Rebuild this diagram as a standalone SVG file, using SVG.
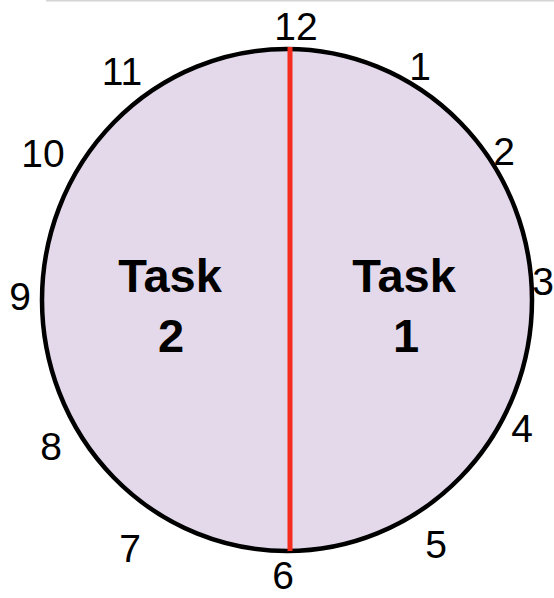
<svg xmlns="http://www.w3.org/2000/svg" width="554" height="598" viewBox="0 0 554 598">
  <style>
    .num { font-family: "Liberation Sans", Arial, sans-serif; font-size: 39px; fill: #000; text-anchor: middle; }
    .task { font-family: "Liberation Sans", Arial, sans-serif; font-size: 47px; font-weight: bold; fill: #000; text-anchor: middle; }
  </style>
  <rect x="0" y="0" width="554" height="598" fill="#ffffff"/>
  <rect x="46" y="0" width="508" height="1.5" fill="#d4d4d4"/>
  <g id="clock">
    <ellipse cx="287" cy="300" rx="245" ry="251" fill="#e3d9eb" stroke="#000" stroke-width="4.5"/>
  </g>
  <g id="connectors">
    <line x1="290" y1="47" x2="290" y2="551" stroke="#f52d1e" stroke-width="5"/>
  </g>
  <g id="task2">
    <text class="task" x="170" y="292">Task</text>
    <text class="task" x="171" y="352">2</text>
  </g>
  <g id="task1">
    <text class="task" x="404" y="292">Task</text>
    <text class="task" x="406" y="352">1</text>
  </g>
  <g id="hours">
    <text class="num" x="296" y="40">12</text>
    <text class="num" x="420" y="80">1</text>
    <text class="num" x="504" y="165">2</text>
    <text class="num" x="543" y="295">3</text>
    <text class="num" x="522" y="442">4</text>
    <text class="num" x="436" y="558">5</text>
    <text class="num" x="283" y="589">6</text>
    <text class="num" x="130" y="562">7</text>
    <text class="num" x="51" y="460">8</text>
    <text class="num" x="20" y="310">9</text>
    <text class="num" x="43" y="167">10</text>
    <text class="num" x="122" y="85">11</text>
  </g>
</svg>
